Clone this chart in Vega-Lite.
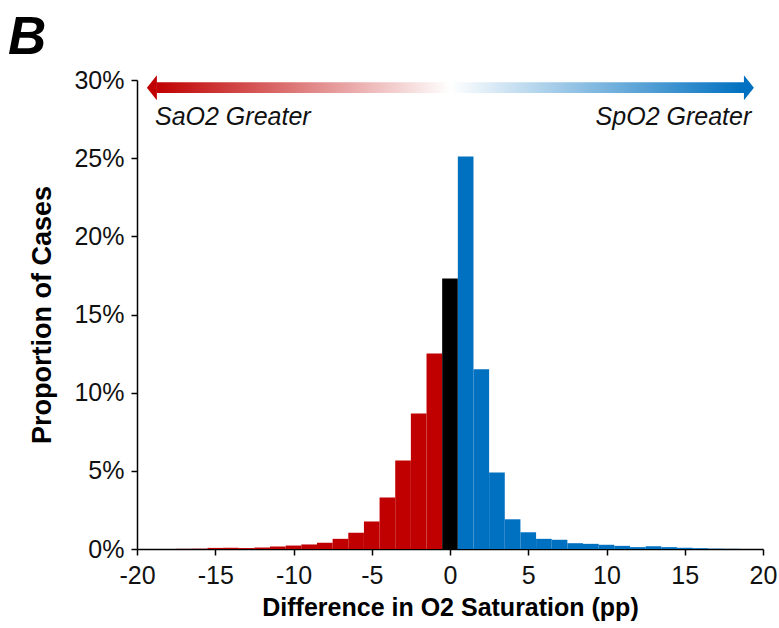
{
  "$schema": "https://vega.github.io/schema/vega-lite/v6.json",
  "width": 626,
  "height": 469,
  "autosize": {"type": "none"},
  "padding": {"left": 137, "top": 80, "right": 16, "bottom": 79},
  "background": "white",
  "title": {
    "text": "B",
    "anchor": "start",
    "frame": "group",
    "orient": "top",
    "dx": -129,
    "offset": 3,
    "font": "Liberation Sans",
    "fontSize": 53,
    "fontWeight": "bold",
    "fontStyle": "italic",
    "color": "black"
  },
  "config": {
    "view": {"stroke": null},
    "axis": {
      "labelFont": "Liberation Sans",
      "titleFont": "Liberation Sans",
      "labelFontSize": 25,
      "titleFontSize": 25,
      "labelColor": "#111111",
      "titleColor": "black",
      "domainColor": "black",
      "domainWidth": 1.5,
      "tickColor": "black",
      "tickWidth": 1.5,
      "tickSize": 6,
      "grid": false
    }
  },
  "datasets": {
    "bins": [
      {"lo": -17.5, "hi": -16.5, "p": 0.0001, "side": "SaO2"},
      {"lo": -16.5, "hi": -15.5, "p": 0.0002, "side": "SaO2"},
      {"lo": -15.5, "hi": -14.5, "p": 0.0007, "side": "SaO2"},
      {"lo": -14.5, "hi": -13.5, "p": 0.0008, "side": "SaO2"},
      {"lo": -13.5, "hi": -12.5, "p": 0.0006, "side": "SaO2"},
      {"lo": -12.5, "hi": -11.5, "p": 0.001, "side": "SaO2"},
      {"lo": -11.5, "hi": -10.5, "p": 0.0016, "side": "SaO2"},
      {"lo": -10.5, "hi": -9.5, "p": 0.0022, "side": "SaO2"},
      {"lo": -9.5, "hi": -8.5, "p": 0.0029, "side": "SaO2"},
      {"lo": -8.5, "hi": -7.5, "p": 0.004, "side": "SaO2"},
      {"lo": -7.5, "hi": -6.5, "p": 0.0065, "side": "SaO2"},
      {"lo": -6.5, "hi": -5.5, "p": 0.0104, "side": "SaO2"},
      {"lo": -5.5, "hi": -4.5, "p": 0.0176, "side": "SaO2"},
      {"lo": -4.5, "hi": -3.5, "p": 0.033, "side": "SaO2"},
      {"lo": -3.5, "hi": -2.5, "p": 0.0566, "side": "SaO2"},
      {"lo": -2.5, "hi": -1.5, "p": 0.0867, "side": "SaO2"},
      {"lo": -1.5, "hi": -0.5, "p": 0.125, "side": "SaO2"},
      {"lo": -0.5, "hi": 0.5, "p": 0.173, "side": "Equal"},
      {"lo": 0.5, "hi": 1.5, "p": 0.251, "side": "SpO2"},
      {"lo": 1.5, "hi": 2.5, "p": 0.115, "side": "SpO2"},
      {"lo": 2.5, "hi": 3.5, "p": 0.049, "side": "SpO2"},
      {"lo": 3.5, "hi": 4.5, "p": 0.019, "side": "SpO2"},
      {"lo": 4.5, "hi": 5.5, "p": 0.0107, "side": "SpO2"},
      {"lo": 5.5, "hi": 6.5, "p": 0.0065, "side": "SpO2"},
      {"lo": 6.5, "hi": 7.5, "p": 0.0059, "side": "SpO2"},
      {"lo": 7.5, "hi": 8.5, "p": 0.0037, "side": "SpO2"},
      {"lo": 8.5, "hi": 9.5, "p": 0.0033, "side": "SpO2"},
      {"lo": 9.5, "hi": 10.5, "p": 0.0027, "side": "SpO2"},
      {"lo": 10.5, "hi": 11.5, "p": 0.002, "side": "SpO2"},
      {"lo": 11.5, "hi": 12.5, "p": 0.0012, "side": "SpO2"},
      {"lo": 12.5, "hi": 13.5, "p": 0.0018, "side": "SpO2"},
      {"lo": 13.5, "hi": 14.5, "p": 0.0012, "side": "SpO2"},
      {"lo": 14.5, "hi": 15.5, "p": 0.0008, "side": "SpO2"},
      {"lo": 15.5, "hi": 16.5, "p": 0.0005, "side": "SpO2"},
      {"lo": 16.5, "hi": 17.5, "p": 0.0002, "side": "SpO2"},
      {"lo": 17.5, "hi": 18.5, "p": 0.0001, "side": "SpO2"}
    ],
    "arrowBar": [{"x1": -18.75, "x2": 18.8, "y1": 0.2917, "y2": 0.2985}],
    "heads": [
      {"x": -19.05, "y": 0.2951, "side": "left"},
      {"x": 19.1, "y": 0.2951, "side": "right"}
    ],
    "labels": [
      {"x": -18.85, "y": 0.2765, "t": "SaO2 Greater", "a": "left"},
      {"x": 19.25, "y": 0.2765, "t": "SpO2 Greater", "a": "right"}
    ]
  },
  "layer": [
    {
      "data": {"name": "bins"},
      "mark": {"type": "rect", "stroke": null},
      "encoding": {
        "x": {
          "field": "lo",
          "type": "quantitative",
          "scale": {"domain": [-20, 20], "nice": false, "zero": false},
          "axis": {
            "values": [-20, -15, -10, -5, 0, 5, 10, 15, 20],
            "labelExpr": "toString(datum.value)",
            "title": "Difference in O2 Saturation (pp)",
            "titleFontWeight": "bold",
            "labelPadding": 8,
            "titlePadding": 7,
            "labelFlush": false
          }
        },
        "x2": {"field": "hi"},
        "y": {
          "field": "p",
          "type": "quantitative",
          "scale": {"domain": [0, 0.3], "nice": false},
          "axis": {
            "values": [0, 0.05, 0.1, 0.15, 0.2, 0.25, 0.3],
            "format": ".0%",
            "title": "Proportion of Cases",
            "titleFontWeight": "bold",
            "titleFontSize": 27,
            "labelPadding": 7,
            "titlePadding": 17
          }
        },
        "y2": {"datum": 0},
        "color": {
          "field": "side",
          "type": "nominal",
          "scale": {"domain": ["SaO2", "Equal", "SpO2"], "range": ["#C00000", "#000000", "#0070C0"]},
          "legend": null
        }
      }
    },
    {
      "data": {"name": "arrowBar"},
      "mark": {
        "type": "rect",
        "fill": {
          "gradient": "linear",
          "x1": 0, "y1": 0, "x2": 1, "y2": 0,
          "stops": [
            {"offset": 0, "color": "#C00000"},
            {"offset": 0.5, "color": "#FFFFFF"},
            {"offset": 1, "color": "#0070C0"}
          ]
        }
      },
      "encoding": {
        "x": {"field": "x1", "type": "quantitative"},
        "x2": {"field": "x2"},
        "y": {"field": "y1", "type": "quantitative"},
        "y2": {"field": "y2"}
      }
    },
    {
      "data": {"name": "heads"},
      "mark": {"type": "point", "filled": true, "opacity": 1, "size": 100, "strokeWidth": 0},
      "encoding": {
        "x": {"field": "x", "type": "quantitative"},
        "y": {"field": "y", "type": "quantitative"},
        "shape": {
          "field": "side",
          "type": "nominal",
          "scale": {"domain": ["left", "right"], "range": ["M -1 0 L 1 -2.5 L 1 2.5 Z", "M 1 0 L -1 -2.5 L -1 2.5 Z"]},
          "legend": null
        },
        "color": {
          "field": "side",
          "type": "nominal",
          "scale": {"domain": ["left", "right"], "range": ["#C00000", "#0070C0"]},
          "legend": null
        }
      }
    },
    {
      "data": {"name": "labels"},
      "transform": [{"filter": "datum.a === 'left'"}],
      "mark": {"type": "text", "font": "Liberation Sans", "fontSize": 25, "fontStyle": "italic", "color": "#111111", "baseline": "middle", "align": "left"},
      "encoding": {
        "x": {"field": "x", "type": "quantitative"},
        "y": {"field": "y", "type": "quantitative"},
        "text": {"field": "t"}
      }
    },
    {
      "data": {"name": "labels"},
      "transform": [{"filter": "datum.a === 'right'"}],
      "mark": {"type": "text", "font": "Liberation Sans", "fontSize": 25, "fontStyle": "italic", "color": "#111111", "baseline": "middle", "align": "right"},
      "encoding": {
        "x": {"field": "x", "type": "quantitative"},
        "y": {"field": "y", "type": "quantitative"},
        "text": {"field": "t"}
      }
    }
  ],
  "resolve": {"scale": {"color": "independent", "shape": "independent"}}
}
